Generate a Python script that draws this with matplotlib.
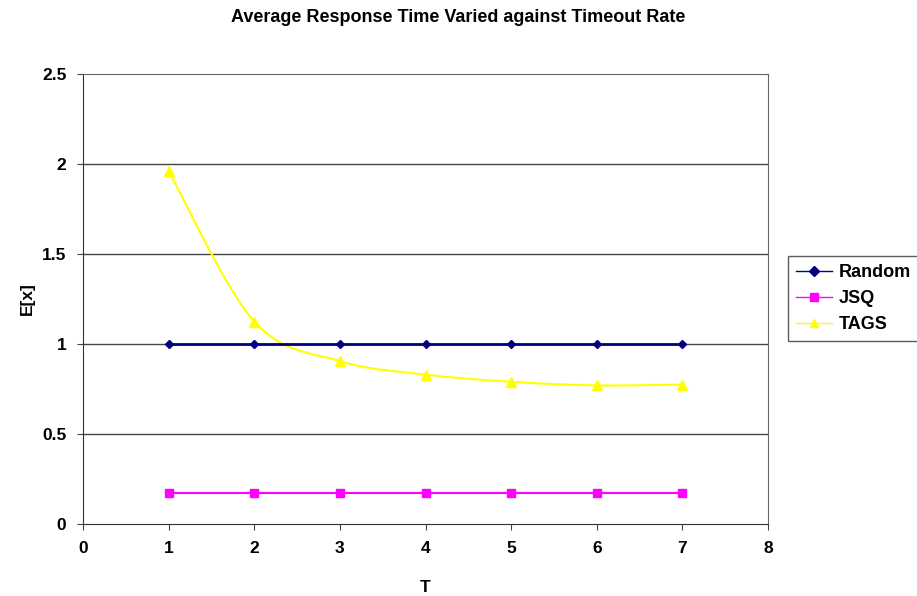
import numpy as np
import matplotlib.pyplot as plt

plt.rcParams['font.family'] = ['Liberation Sans', 'DejaVu Sans']
plt.rcParams['font.weight'] = 'bold'

t_values = [1, 2, 3, 4, 5, 6, 7]
random_ex = [1.0, 1.0, 1.0, 1.0, 1.0, 1.0, 1.0]
jsq_ex = [0.175, 0.175, 0.175, 0.175, 0.175, 0.175, 0.175]
tags_ex = [1.96, 1.125, 0.905, 0.83, 0.79, 0.77, 0.775]


def smooth_curve(x, y, steps=30):
    # Catmull-Rom style smoothing, like a spreadsheet "smoothed line"
    x = np.asarray(x, float)
    y = np.asarray(y, float)
    px = np.concatenate([[x[0]], x, [x[-1]]])
    py = np.concatenate([[y[0]], y, [y[-1]]])
    xs, ys = [], []
    s = np.linspace(0, 1, steps)
    for i in range(1, len(px) - 2):
        p0, p1, p2, p3 = (np.array([px[j], py[j]]) for j in range(i - 1, i + 3))
        c1 = p1 + (p2 - p0) / 6
        c2 = p2 - (p3 - p1) / 6
        b = ((1 - s) ** 3)[:, None] * p1 + (3 * (1 - s) ** 2 * s)[:, None] * c1 \
            + (3 * (1 - s) * s ** 2)[:, None] * c2 + (s ** 3)[:, None] * p2
        xs.extend(b[:, 0])
        ys.extend(b[:, 1])
    return np.array(xs), np.array(ys)


fig = plt.figure(figsize=(9.17, 5.96), dpi=100)
ax = fig.add_axes([83 / 917, 1 - 524 / 596, 685 / 917, 450 / 596])

for yv in [0.5, 1.0, 1.5, 2.0]:
    ax.axhline(yv, color='#444444', lw=1.0, zorder=1)

ax.plot(t_values, random_ex, color='#000080', lw=2, marker='D', ms=4.5,
        label='Random', zorder=4)
ax.plot(t_values, jsq_ex, color='#ff00ff', lw=1.5, marker='s', ms=6,
        label='JSQ', zorder=3)
sx, sy = smooth_curve(t_values, tags_ex)
ax.plot(sx, sy, color='#ffff00', lw=1.5, zorder=3)
ax.plot(t_values, tags_ex, color='#ffff00', lw=0, marker='^', ms=7, zorder=3)
ax.plot([], [], color='#ffff00', lw=1.2, marker='^', ms=7, label='TAGS')

ax.set_xlim(0, 8)
ax.set_ylim(0, 2.5)
ax.set_xticks(range(0, 9))
ax.set_yticks([0, 0.5, 1, 1.5, 2, 2.5])
ax.set_yticklabels(['0', '0.5', '1', '1.5', '2', '2.5'])
ax.tick_params(labelsize=12.5, length=4, color='#444444', pad=8)
for sp in ax.spines.values():
    sp.set_color('#666666')
ax.spines['left'].set_color('#333333')
ax.spines['bottom'].set_color('#333333')

ax.set_xlabel('T', fontsize=12.5, fontweight='bold')
ax.xaxis.set_label_coords(0.5, -(587 - 524) / 450, transform=ax.transAxes)
ax.xaxis.label.set_va('center')
ax.set_ylabel('E[x]', fontsize=12.5, fontweight='bold')
ax.yaxis.set_label_coords(-(83 - 27) / 685, 0.5)
ax.yaxis.label.set_va('center')
fig.suptitle('Average Response Time Varied against Timeout Rate',
             fontsize=13, fontweight='bold', y=1 - 9 / 596, va='top')

leg = fig.legend(loc='upper left', bbox_to_anchor=(788 / 917, 1 - 256 / 596),
                 fontsize=13, frameon=True, fancybox=False, edgecolor='#333333',
                 handlelength=2.0, borderpad=0.45, labelspacing=0.5,
                 handletextpad=0.35, borderaxespad=0)
leg.get_frame().set_linewidth(1.0)
for line in leg.get_lines():
    line.set_linewidth(1.0)
    line.set_markersize(5.5)

fig.savefig('out.png', dpi=100)
